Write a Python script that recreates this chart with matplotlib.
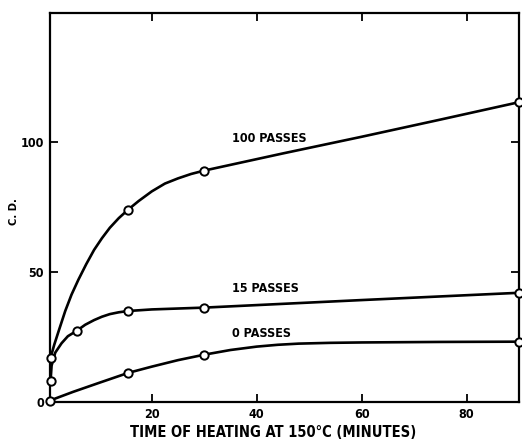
import matplotlib
matplotlib.use("Agg")
import matplotlib.pyplot as plt

plt.rcParams['font.family'] = ['DejaVu Sans']
plt.rcParams['font.stretch'] = 'condensed'
plt.rcParams['font.weight'] = 'bold'

# curve traces (minutes, C.D.)
x100 = [0.7, 1.4, 2.2, 3.5, 4.7, 6, 7.5, 9, 10.5, 12, 13.7, 15.5, 17.5, 20, 22.5, 25, 27.5, 30, 35, 45, 60, 75, 90]
y100 = [17, 22, 27, 35, 41.3, 47, 53, 58.5, 63, 67, 70.7, 74, 77.3, 81, 84, 86, 87.7, 89, 91.2, 95.6, 102, 108.6, 115.3]
x15 = [0.7, 0.9, 1.6, 2.8, 4, 5.7, 7.3, 9, 10.5, 12, 13.7, 15.5, 20, 30, 60, 90]
y15 = [8, 14, 19, 22.6, 25.3, 27.4, 29.7, 31.5, 32.8, 33.8, 34.5, 35, 35.6, 36.3, 39.2, 42]
x0 = [0.5, 5, 10, 15.5, 20, 25, 30, 35, 40, 44, 48, 54, 60, 75, 90]
y0 = [0.5, 3.9, 7.4, 11.2, 13.6, 16.1, 18.2, 20.0, 21.3, 22.0, 22.45, 22.75, 22.9, 23.1, 23.2]

# measured points (circles)
m100x = [0.7, 15.5, 30, 90]
m100y = [17, 74, 89, 115.3]
m15x = [0.7, 5.7, 15.5, 30, 90]
m15y = [8, 27.4, 35, 36.3, 42]
m0x = [0.5, 15.5, 30, 90]
m0y = [0.5, 11.2, 18.2, 23.2]

labels = ["100 PASSES", "15 PASSES", "0 PASSES"]
label_y = [101.5, 43.5, 26.5]

fig = plt.figure(figsize=(5.22, 4.41), dpi=100)
ax = fig.add_axes([49.5 / 522, 39 / 441, 469.5 / 522, 389 / 441])

for cx, cy, mx, my in [(x100, y100, m100x, m100y),
                       (x15, y15, m15x, m15y),
                       (x0, y0, m0x, m0y)]:
    ax.plot(cx, cy, color='black', lw=1.9, solid_joinstyle='round', clip_on=False)
    ax.plot(mx, my, 'o', ms=6, mfc='white', mec='black', mew=1.4, clip_on=False, zorder=5)

for txt, ly in zip(labels, label_y):
    ax.text(35.2, ly, txt, fontsize=9, fontweight='bold', ha='left', va='center')

ax.set_xlim(0.5, 90)
ax.set_ylim(0, 149.6)
ax.set_xticks([20, 40, 60, 80])
ax.set_yticks([0, 50, 100])
ax.tick_params(direction='in', length=6, width=1.3, labelsize=9,
               top=True, right=True, pad=4)
for lab in ax.get_xticklabels() + ax.get_yticklabels():
    lab.set_fontweight('bold')
for s in ax.spines.values():
    s.set_linewidth(1.6)

ax.set_xlabel("TIME OF HEATING AT 150°C (MINUTES)", fontsize=10.5, fontweight='bold')
ax.xaxis.set_label_coords(0.476, -0.058)
ax.set_ylabel("C. D.", fontsize=8, fontweight='bold')
ax.yaxis.set_label_coords(-0.064, 0.49)

fig.savefig("out.png", dpi=100)
